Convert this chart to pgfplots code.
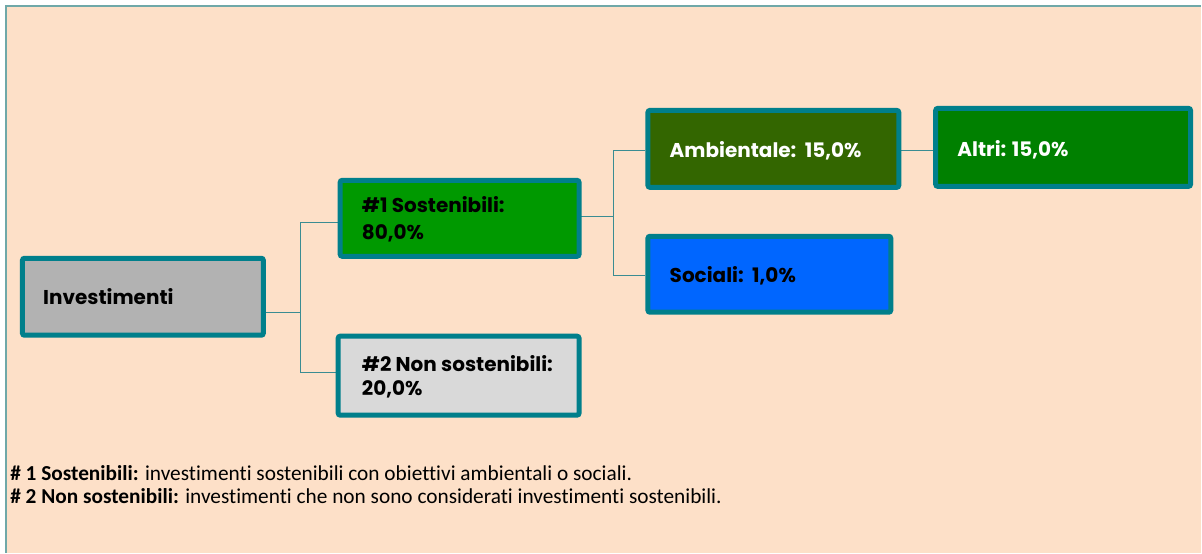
\documentclass[border=0pt]{standalone}
\usepackage{pgfplots}
\pgfplotsset{compat=1.18}
\usepackage{fontspec}
\setmainfont{Carlito}[Ligatures={NoCommon}]
\newfontfamily\boxfont{Poppins}
\definecolor{peach}{HTML}{FDE0C8}
\definecolor{framecol}{HTML}{6FA8A8}
\definecolor{boxb}{HTML}{007F8B}
\definecolor{conn}{HTML}{3A8C92}
\definecolor{cInv}{HTML}{B2B2B2}
\definecolor{cSos}{HTML}{009900}
\definecolor{cNon}{HTML}{D9D9D9}
\definecolor{cAmb}{HTML}{336600}
\definecolor{cSoc}{HTML}{0066FF}
\definecolor{cAlt}{HTML}{008000}
\tikzset{
  boxstyle/.style={draw=boxb,line width=3.75pt,rounded corners=1.5pt},
  lbl/.style={anchor=base west,inner sep=0pt,font=\boxfont\bfseries\fontsize{15}{18}\selectfont},
  foot/.style={anchor=base west,inner sep=0pt,font=\fontsize{16}{19}\selectfont}}
\begin{document}
\begin{tikzpicture}
\begin{axis}[x=0.75pt,y=0.75pt,xmin=0,xmax=1202,ymin=0,ymax=553,hide axis,clip=false,no markers]
% background
\addplot[draw=none,fill=white] coordinates {(0,0)(1202,0)(1202,553)(0,553)} -- cycle;
\addplot[draw=none,fill=peach] coordinates {(6,0)(1202,0)(1202,547)(6,547)} -- cycle;
\addplot[framecol,line width=1.5pt] coordinates {(6,0)(6,547)(1202,547)};
% connectors
\addplot[conn,line width=0.9pt] coordinates {(264,240)(301,240)};
\addplot[conn,line width=0.9pt] coordinates {(338,330)(301,330)(301,180)(336,180)};
\addplot[conn,line width=0.9pt] coordinates {(580,336)(614,336)};
\addplot[conn,line width=0.9pt] coordinates {(646,402)(614,402)(614,277)(646,277)};
\addplot[conn,line width=0.9pt] coordinates {(900,402)(934,402)};
% boxes
\addplot[boxstyle,fill=cInv] coordinates {(22.5,217.5)(263.5,217.5)(263.5,294.5)(22.5,294.5)} -- cycle;
\addplot[boxstyle,fill=cSos] coordinates {(340.5,296.5)(579.5,296.5)(579.5,372.5)(340.5,372.5)} -- cycle;
\addplot[boxstyle,fill=cNon] coordinates {(338.5,137.5)(579.5,137.5)(579.5,216.5)(338.5,216.5)} -- cycle;
\addplot[boxstyle,fill=cAmb] coordinates {(648.5,365.5)(899.5,365.5)(899.5,442.5)(648.5,442.5)} -- cycle;
\addplot[boxstyle,fill=cSoc] coordinates {(648.5,240.5)(891.5,240.5)(891.5,316.5)(648.5,316.5)} -- cycle;
\addplot[boxstyle,fill=cAlt] coordinates {(936.5,366.5)(1191.5,366.5)(1191.5,444.5)(936.5,444.5)} -- cycle;
% labels
\node[lbl] at (axis cs:43,248) {Investimenti};
\node[lbl] at (axis cs:362,340) {\#1 Sostenibili:};
\node[lbl] at (axis cs:362,313) {80,0\%};
\node[lbl] at (axis cs:362,181) {\#2 Non sostenibili:};
\node[lbl] at (axis cs:362,157) {20,0\%};
\node[lbl,text=white] at (axis cs:670,395) {Ambientale:\ \ 15,0\%};
\node[lbl] at (axis cs:670,270) {Sociali:\ \ 1,0\%};
\node[lbl,text=white] at (axis cs:958,396) {Altri: 15,0\%};
% footnotes
\node[foot] at (axis cs:10,72) {\textbf{\# 1 Sostenibili:} investimenti sostenibili con obiettivi ambientali o sociali.};
\node[foot] at (axis cs:10,49) {\textbf{\# 2 Non sostenibili:} investimenti che non sono considerati investimenti sostenibili.};
\end{axis}
\end{tikzpicture}
\end{document}
